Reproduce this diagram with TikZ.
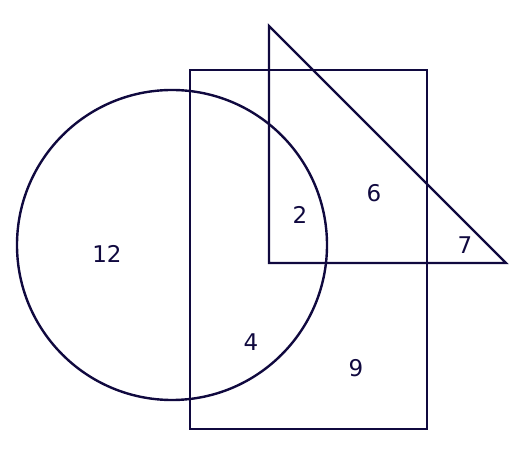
\documentclass[tikz,border=0pt]{standalone}
\usepackage{fontspec}
\setmainfont{DejaVu Sans}
\definecolor{ink}{HTML}{10093F}
\begin{document}
\begin{tikzpicture}[x=1pt,y=-1pt,
  shapeline/.style={draw=ink,line width=2.4pt},
  lbl/.style={text=ink,font=\fontsize{23}{27}\selectfont,inner sep=0pt}]
\useasboundingbox (0,0) rectangle (520,449);
\node[shapeline,circle,minimum size=310pt,inner sep=0pt] (circ) at (172,245) {};
\node[shapeline,rectangle,minimum width=237pt,minimum height=359pt,inner sep=0pt] (rect) at (308.5,249.5) {};
\coordinate (ta) at (269,26);
\coordinate (tb) at (269,263);
\coordinate (tc) at (506,263);
\draw[shapeline,line join=miter] (ta) -- (tb) -- (tc) -- cycle;
\node[lbl] (n12) at (107,254) {12};
\node[lbl] (n2) at (300,215) {2};
\node[lbl] (n6) at (374,193) {6};
\node[lbl] (n7) at (465,245) {7};
\node[lbl] (n4) at (251,342) {4};
\node[lbl] (n9) at (356,368) {9};
\end{tikzpicture}
\end{document}
